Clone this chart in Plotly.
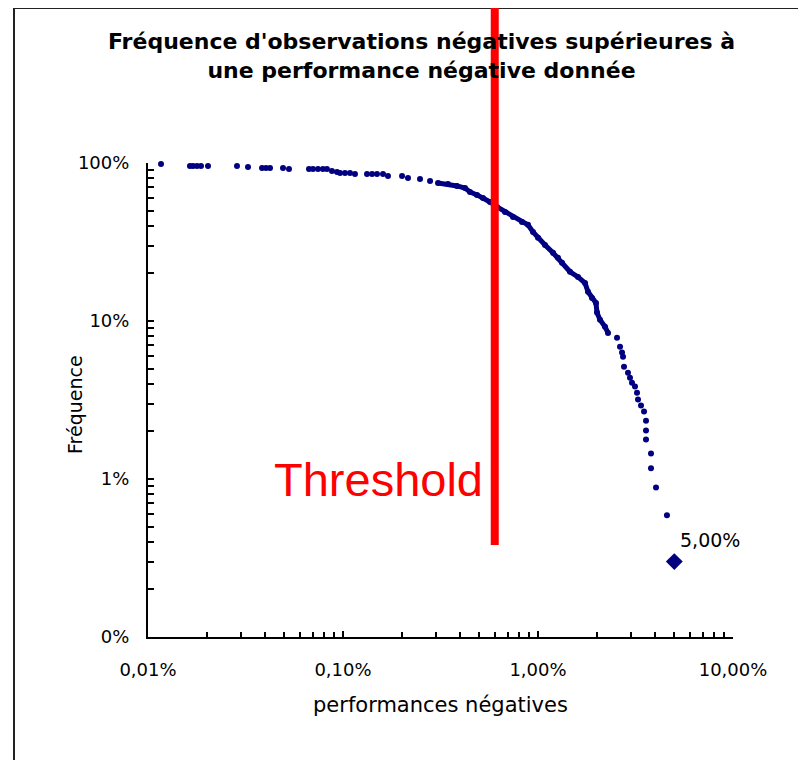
import math
import plotly.graph_objects as go

# ---- data (percent units) ----
perf_neg_pct = [
    0.01166, 0.01641, 0.01701, 0.01783, 0.01870, 0.02031, 0.02860, 0.03257,
    0.03843, 0.04029, 0.04223, 0.04924, 0.05285, 0.06692, 0.07017, 0.07443,
    0.07893, 0.08275, 0.08777, 0.09316, 0.0966, 0.1024, 0.1086, 0.1152,
    0.1328, 0.1409, 0.1494, 0.1604, 0.1701, 0.2008, 0.2154, 0.2483, 0.2795,
    0.3071, 0.3455, 0.3843, 0.4223, 0.4479, 0.4866, 0.5222, 0.5674, 0.6165,
    0.6775, 0.7443, 0.8276, 0.8886, 0.9427, 1.0, 1.086, 1.194, 1.266, 1.328,
    1.459, 1.604, 1.742, 1.805, 1.892, 1.983, 2.007, 2.079, 2.206, 2.286,
    2.542, 2.634, 2.697, 2.729, 2.761, 2.894, 2.963, 3.034, 3.144, 3.219,
    3.257, 3.374, 3.497, 3.580, 3.580, 3.580, 3.797, 3.797, 4.029, 4.585,
]
frequence_pct = [
    98.6, 95.7, 95.7, 95.7, 95.7, 95.7, 95.7, 94.3,
    93.0, 93.0, 93.0, 93.0, 91.6, 91.6, 91.6, 91.6,
    91.6, 91.6, 89.0, 87.7, 86.4, 86.4, 86.4, 85.2,
    85.2, 85.2, 85.2, 85.2, 82.8, 82.8, 80.4, 79.2, 76.9,
    74.7, 73.7, 71.6, 69.5, 65.6, 62.8, 60.1, 56.7, 52.7,
    49.0, 45.6, 42.4, 40.6, 36.6, 33.6, 30.3, 27.0, 25.1, 23.4,
    20.5, 19.0, 17.4, 15.3, 14.0, 13.0, 11.3, 10.2, 9.2, 8.4,
    7.84, 6.88, 6.31, 5.95, 5.14, 4.71, 4.38, 4.07, 3.85, 3.52,
    3.18, 2.92, 2.67, 2.34, 2.03, 1.78, 1.45, 1.17, 0.885, 0.589,
]
last_x_pct = [5.00]
last_y_pct = [0.30]
last_label = "5,00%"

threshold_pct = 0.6
threshold_text = "Threshold"

x_tickvals = [0.01, 0.1, 1, 10]
x_ticktext = ["0,01%", "0,10%", "1,00%", "10,00%"]
y_tickvals = [0.1, 1, 10, 100]
y_ticktext = ["0%", "1%", "10%", "100%"]
minor_steps = [2, 3, 4, 5, 6, 7, 8, 9]

title_text = "Fréquence d'observations négatives supérieures à<br>une performance négative donnée"
x_title = "performances négatives"
y_title = "Fréquence"

# ---- styling ----
NAVY = "#000080"
W, H = 806, 760
OFF = 8  # page body margin
L, T = 140, 155
PW, PH = 585, 474
R, B = W - L - PW, H - T - PH
FONT = "DejaVu Sans"


def px_x(p):
    """page pixel x -> paper coordinate"""
    return (p - OFF - L) / PW


def px_y(p):
    """page pixel y -> paper coordinate"""
    return (T + PH - (p - OFF)) / PH


fig = go.Figure()

DENSE_LO, DENSE_HI = 0.3, 2.3
dense_x = [x for x in perf_neg_pct if DENSE_LO <= x <= DENSE_HI]
dense_y = [y for x, y in zip(perf_neg_pct, frequence_pct) if DENSE_LO <= x <= DENSE_HI]
fig.add_trace(go.Scatter(x=dense_x, y=dense_y, mode="lines",
                         line=dict(color=NAVY, width=5), hoverinfo="skip",
                         showlegend=False))
fig.add_trace(go.Scatter(x=perf_neg_pct, y=frequence_pct, mode="markers",
                         marker=dict(color=NAVY, size=6, symbol="circle"),
                         showlegend=False, cliponaxis=False))
fig.add_trace(go.Scatter(x=last_x_pct, y=last_y_pct, mode="markers",
                         marker=dict(color=NAVY, size=13, symbol="diamond"),
                         showlegend=False, cliponaxis=False))

minor_x = [s * d for d in [0.01, 0.1, 1] for s in minor_steps]
minor_y = [s * d for d in [0.1, 1, 10] for s in minor_steps]

axis_common = dict(showgrid=False, zeroline=False, showline=True, linecolor="black",
                   linewidth=2, ticks="inside", ticklen=6, tickwidth=2, tickcolor="black",
                   tickfont=dict(family=FONT, size=18, color="black"), mirror=False)

fig.update_xaxes(type="log", range=[-2, 1], tickmode="array", tickvals=x_tickvals,
                 ticktext=x_ticktext, ticklabelstandoff=15,
                 minor=dict(tickmode="array", tickvals=minor_x, ticks="inside",
                            ticklen=5, tickwidth=2, tickcolor="black"),
                 **axis_common)
fig.update_yaxes(type="log", range=[-1, 2], tickmode="array", tickvals=y_tickvals,
                 ticktext=y_ticktext, ticklabelstandoff=13,
                 minor=dict(tickmode="array", tickvals=minor_y, ticks="inside",
                            ticklen=6, tickwidth=2, tickcolor="black"),
                 **axis_common)

# outer chart border
fig.add_shape(type="rect", xref="paper", yref="paper",
              x0=px_x(14), x1=px_x(840), y0=px_y(800), y1=px_y(8),
              line=dict(color="#222222", width=2), fillcolor="rgba(0,0,0,0)")
# threshold line
fig.add_shape(type="line", xref="x", yref="paper",
              x0=threshold_pct, x1=threshold_pct, y0=px_y(545), y1=px_y(-10),
              line=dict(color="#ff0000", width=8))

fig.add_annotation(text="<b>" + title_text.replace("<br>", "</b><br><b>") + "</b>",
                   xref="paper", yref="paper",
                   x=px_x(421), y=px_y(56), xanchor="center", yanchor="middle",
                   showarrow=False, font=dict(family=FONT, size=22, color="black"),
                   align="center")
fig.add_annotation(text=x_title, xref="paper", yref="paper",
                   x=0.5, y=px_y(705), xanchor="center", yanchor="middle",
                   showarrow=False, font=dict(family=FONT, size=21, color="black"))
fig.add_annotation(text=y_title, xref="paper", yref="paper",
                   x=px_x(75), y=px_y(405), xanchor="center", yanchor="middle",
                   textangle=-90, showarrow=False,
                   font=dict(family=FONT, size=19, color="black"))
fig.add_annotation(text=threshold_text, xref="x", yref="y",
                   x=math.log10(threshold_pct), y=math.log10(1),
                   xanchor="right", yanchor="middle", xshift=-10, showarrow=False,
                   font=dict(family="Liberation Sans, Arial", size=47, color="#ff0000"))
fig.add_annotation(text=last_label, xref="x", yref="y",
                   x=math.log10(last_x_pct[0]), y=math.log10(last_y_pct[0]),
                   xanchor="left", yanchor="middle", xshift=4, yshift=22,
                   showarrow=False, font=dict(family=FONT, size=19, color="black"))

fig.update_layout(width=W, height=H, margin=dict(l=L, r=R, t=T, b=B, autoexpand=False),
                  paper_bgcolor="white", plot_bgcolor="white", showlegend=False)

fig.write_html("out.html")
